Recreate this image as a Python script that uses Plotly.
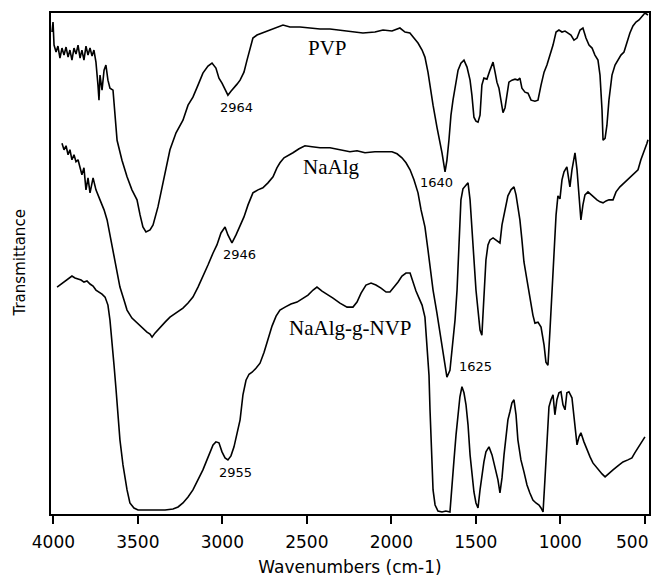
import plotly.graph_objects as go

# ---------------- data (wavenumber in cm-1, transmittance in arbitrary %) ----------------
pvp_wn = [4008, 4002, 3996, 3984, 3973, 3961, 3949, 3937, 3925, 3913, 3902, 3890, 3878, 3866, 3854,
          3842, 3831, 3819, 3807, 3795, 3783, 3771, 3760, 3748, 3736, 3730, 3724, 3712, 3700, 3689,
          3677, 3665, 3647, 3635, 3623, 3594, 3564, 3535, 3505, 3487, 3470, 3452, 3428, 3410, 3399,
          3381, 3345, 3310, 3274, 3233, 3203, 3174, 3144, 3115, 3085, 3061, 3038, 3020, 3002, 2984,
          2967, 2949, 2931, 2913, 2895, 2872, 2854, 2836, 2819, 2795, 2765, 2730, 2688, 2641, 2600,
          2540, 2481, 2422, 2363, 2274, 2168, 2097, 2049, 1996, 1949, 1919, 1890, 1866, 1842, 1818,
          1801, 1783, 1771, 1753, 1730, 1712, 1700, 1682, 1671, 1659, 1647, 1635, 1617, 1605, 1588,
          1570, 1552, 1534, 1523, 1511, 1499, 1487, 1475, 1464, 1452, 1434, 1416, 1398, 1386, 1375,
          1363, 1351, 1339, 1327, 1316, 1304, 1286, 1268, 1251, 1239, 1227, 1209, 1191, 1173, 1150,
          1132, 1114, 1096, 1079, 1061, 1043, 1025, 1008, 990, 972, 954, 937, 919, 901, 883,
          866, 848, 830, 812, 795, 777, 765, 753, 747, 735, 724, 712, 694, 676, 659,
          641, 623, 605, 588, 570, 552, 534, 517, 499, 481]
pvp_t = [96.2, 98.2, 93.6, 92.2, 93.4, 91.0, 93.0, 91.6, 93.2, 91.2, 92.6, 90.6, 93.0, 91.8, 93.6,
         91.0, 92.6, 90.6, 93.4, 91.6, 93.0, 91.4, 92.6, 90.2, 85.6, 82.6, 87.6, 84.6, 88.6, 89.6,
         86.6, 85.0, 84.6, 79.6, 74.6, 70.6, 67.3, 64.7, 62.7, 59.7, 57.3, 56.3, 56.7, 57.7, 59.1,
         61.3, 67.1, 72.7, 76.1, 78.6, 81.6, 83.2, 85.6, 88.0, 89.4, 90.0, 89.0, 87.0, 86.0, 84.6,
         83.6, 84.4, 85.0, 85.8, 86.6, 88.2, 90.6, 93.0, 95.0, 95.6, 96.0, 96.4, 97.0, 97.6, 97.2,
         97.2, 97.0, 96.8, 96.8, 96.4, 96.0, 96.2, 96.6, 96.4, 97.0, 96.2, 96.0, 95.0, 94.0, 92.6,
         91.2, 88.2, 85.2, 81.6, 77.2, 74.2, 72.1, 68.3, 70.6, 74.6, 79.6, 82.6, 86.6, 88.6, 90.0,
         90.6, 89.2, 86.6, 83.6, 79.2, 78.4, 78.2, 79.6, 85.6, 87.0, 86.8, 88.6, 90.2, 88.2, 86.2,
         85.0, 82.6, 80.1, 81.1, 83.6, 86.2, 86.6, 86.8, 86.6, 87.0, 85.0, 84.2, 84.0, 82.6, 82.4,
         82.6, 85.6, 88.2, 89.6, 91.6, 93.6, 96.2, 96.6, 96.2, 96.4, 96.0, 95.6, 94.6, 95.0, 96.6,
         97.0, 95.0, 93.6, 93.0, 91.6, 90.6, 87.6, 80.6, 74.6, 75.0, 77.6, 82.6, 87.6, 89.6, 90.6,
         91.6, 92.2, 94.2, 96.0, 97.4, 98.2, 98.6, 99.2, 100.0, 99.6]

naalg_wn = [3949, 3937, 3925, 3913, 3902, 3890, 3878, 3866, 3854, 3842, 3831, 3819, 3807, 3795, 3783,
            3765, 3748, 3724, 3700, 3682, 3665, 3647, 3623, 3606, 3582, 3564, 3535, 3505, 3475, 3446,
            3428, 3416, 3399, 3369, 3339, 3310, 3274, 3233, 3203, 3174, 3144, 3115, 3085, 3055, 3032,
            3008, 2984, 2967, 2943, 2919, 2895, 2872, 2848, 2819, 2789, 2760, 2730, 2700, 2677, 2659,
            2635, 2611, 2582, 2546, 2511, 2469, 2422, 2363, 2304, 2245, 2203, 2156, 2097, 2037, 1996,
            1966, 1937, 1913, 1889, 1866, 1842, 1824, 1801, 1783, 1753, 1730, 1712, 1694, 1671, 1653,
            1641, 1623, 1611, 1600, 1588, 1576, 1558, 1546, 1534, 1523, 1511, 1499, 1487, 1475, 1464,
            1452, 1440, 1428, 1416, 1398, 1381, 1369, 1357, 1345, 1327, 1310, 1292, 1274, 1262, 1251,
            1239, 1227, 1215, 1197, 1180, 1162, 1150, 1132, 1114, 1096, 1085, 1073, 1061, 1049, 1037,
            1025, 1014, 1002, 990, 978, 961, 949, 943, 931, 913, 901, 889, 878, 866, 854,
            836, 818, 801, 783, 765, 747, 729, 712, 688, 670, 647, 617, 588, 564, 540,
            523, 511, 499, 487, 481]
naalg_t = [74.0, 72.7, 73.5, 71.7, 72.7, 70.7, 71.7, 70.3, 70.7, 69.3, 67.7, 69.1, 64.7, 67.1, 64.1,
           67.1, 64.7, 62.7, 60.7, 58.7, 55.7, 52.7, 47.7, 45.3, 42.7, 40.7, 39.1, 38.1, 37.1, 36.3,
           35.9, 35.3, 36.1, 37.3, 38.3, 39.3, 40.1, 41.1, 42.1, 43.3, 45.3, 47.3, 49.7, 52.1, 53.7,
           56.1, 57.3, 55.7, 54.1, 55.7, 57.7, 59.3, 61.7, 64.1, 64.7, 65.1, 66.1, 67.3, 69.1, 70.1,
           71.1, 71.5, 72.1, 72.9, 73.5, 73.3, 73.1, 73.1, 72.7, 72.3, 72.5, 72.1, 72.3, 72.3, 72.3,
           71.9, 71.1, 70.1, 68.7, 66.7, 64.1, 60.7, 57.3, 52.7, 44.7, 40.1, 36.1, 31.7, 27.3, 28.7,
           32.7, 38.7, 44.7, 54.7, 62.7, 64.9, 65.5, 66.1, 62.7, 56.7, 50.7, 44.7, 40.7, 36.7, 35.7,
           42.7, 50.7, 53.7, 54.7, 55.1, 54.7, 54.3, 54.1, 57.7, 60.7, 63.5, 64.7, 65.3, 63.7, 61.3,
           58.7, 54.7, 50.3, 46.7, 43.1, 39.7, 38.1, 38.3, 37.3, 33.7, 30.3, 29.7, 36.7, 44.7, 52.7,
           59.7, 63.5, 62.9, 66.7, 68.3, 69.3, 67.1, 65.3, 68.7, 72.1, 68.7, 62.7, 58.7, 61.7, 63.7,
           64.3, 63.7, 63.1, 62.7, 62.3, 62.1, 62.5, 62.7, 62.7, 64.3, 65.3, 66.3, 67.3, 68.1, 68.7,
           70.7, 71.7, 72.7, 74.0, 74.7]

graft_wn = [3978, 3961, 3943, 3925, 3907, 3890, 3872, 3854, 3836, 3819, 3801, 3783, 3765, 3748, 3730,
            3712, 3694, 3677, 3665, 3653, 3641, 3629, 3618, 3606, 3588, 3576, 3564, 3547, 3523, 3499,
            3458, 3399, 3339, 3292, 3262, 3233, 3203, 3174, 3144, 3115, 3091, 3073, 3055, 3038, 3020,
            3002, 2984, 2967, 2949, 2931, 2913, 2895, 2878, 2860, 2842, 2824, 2801, 2777, 2753, 2730,
            2706, 2682, 2659, 2629, 2594, 2558, 2523, 2493, 2463, 2440, 2410, 2381, 2345, 2304, 2262,
            2227, 2203, 2179, 2150, 2120, 2091, 2061, 2031, 2008, 1984, 1960, 1937, 1913, 1889, 1872,
            1854, 1836, 1818, 1801, 1789, 1777, 1771, 1759, 1753, 1741, 1724, 1700, 1677, 1653, 1641,
            1629, 1617, 1605, 1594, 1582, 1570, 1558, 1546, 1534, 1523, 1511, 1499, 1487, 1475, 1464,
            1452, 1440, 1422, 1404, 1386, 1369, 1357, 1345, 1333, 1321, 1310, 1298, 1286, 1274, 1262,
            1251, 1233, 1215, 1197, 1180, 1162, 1144, 1126, 1114, 1102, 1091, 1079, 1067, 1055, 1043,
            1032, 1020, 1008, 996, 984, 972, 961, 949, 931, 913, 901, 889, 878, 860, 842,
            824, 807, 789, 771, 753, 735, 712, 688, 659, 629, 600, 576, 559, 540, 523, 499]
graft_t = [45.3, 45.7, 46.3, 46.7, 47.1, 47.5, 47.1, 46.9, 46.7, 46.3, 46.5, 45.9, 45.5, 44.7, 44.3,
           43.9, 43.3, 41.7, 38.7, 34.7, 29.7, 24.8, 19.8, 14.8, 9.8, 6.8, 4.8, 2.2, 1.2, 0.8,
           0.8, 0.8, 0.8, 1.0, 1.4, 2.2, 3.4, 4.8, 6.8, 8.8, 10.8, 12.4, 13.8, 14.4, 14.2,
           12.4, 11.2, 10.8, 11.6, 13.4, 15.8, 18.8, 23.8, 26.7, 27.9, 28.3, 29.1, 30.1, 32.3, 34.7,
           37.5, 39.5, 40.7, 41.3, 41.9, 42.3, 43.1, 43.7, 44.7, 45.3, 44.5, 43.9, 43.1, 42.1, 41.3,
           41.3, 42.3, 44.1, 45.7, 46.1, 45.7, 45.1, 44.3, 44.3, 45.3, 46.3, 47.5, 48.1, 48.1, 46.3,
           44.5, 43.1, 41.7, 39.3, 33.7, 27.7, 20.8, 8.8, 4.8, 1.8, 0.6, 0.4, 0.6, 0.4, 4.8,
           10.8, 15.8, 19.8, 23.4, 25.4, 24.2, 21.8, 17.8, 11.8, 7.8, 4.4, 2.2, 1.2, 4.8, 7.8,
           10.4, 12.4, 13.4, 11.8, 9.4, 6.8, 4.2, 7.2, 11.8, 15.8, 18.8, 20.4, 22.2, 22.8, 19.8,
           14.8, 10.8, 8.4, 5.8, 4.2, 2.8, 2.2, 1.8, 1.2, 0.4, 6.8, 14.8, 21.4, 22.8, 23.8,
           19.8, 22.8, 24.2, 24.4, 21.8, 20.8, 24.2, 24.4, 23.2, 17.8, 13.8, 15.4, 16.2, 14.4, 12.8,
           11.4, 10.2, 9.4, 8.8, 8.0, 7.4, 8.0, 8.8, 9.6, 10.4, 10.8, 11.2, 12.2, 13.2, 14.2, 15.4]

series_names = ["PVP", "NaAlg", "NaAlg-g-NVP"]
name_wn = [2375, 2357, 2244]
name_t = [93.0, 69.3, 37.1]

peak_labels = ["2964", "1640", "2946", "1625", "2955"]
peak_wn = [2919, 1730, 2901, 1499, 2925]
peak_t = [81.2, 66.1, 51.7, 29.5, 8.2]

x_ticks = [4000, 3500, 3000, 2500, 2000, 1500, 1000, 500]
x_tick_text = ["4000", "3500", "3000", "2500", "2000", "1500", "1000", ""]
last_tick_label = "500"   # drawn separately so that it stays inside the page

# ---------------- figure ----------------
fig = go.Figure()
for wn, t, nm in [(pvp_wn, pvp_t, series_names[0]),
                  (naalg_wn, naalg_t, series_names[1]),
                  (graft_wn, graft_t, series_names[2])]:
    fig.add_trace(go.Scatter(x=wn, y=t, mode="lines", name=nm,
                             line=dict(color="black", width=1.6), showlegend=False,
                             hoverinfo="skip"))

for nm, x, y in zip(series_names, name_wn, name_t):
    fig.add_annotation(x=x, y=y, text=nm, showarrow=False,
                       font=dict(family="Liberation Serif", size=21, color="black"))

for lb, x, y in zip(peak_labels, peak_wn, peak_t):
    fig.add_annotation(x=x, y=y, text=lb, showarrow=False,
                       font=dict(family="DejaVu Sans", size=13, color="black"))

fig.add_annotation(xref="x", yref="paper", x=x_ticks[-1], y=0, xshift=-13, yshift=-28,
                   text=last_tick_label, showarrow=False, xanchor="center", yanchor="middle",
                   font=dict(family="DejaVu Sans", size=17, color="black"))

fig.add_annotation(xref="paper", yref="paper", x=0, y=0.5, xshift=-32, text="Transmittance",
                   textangle=-90, showarrow=False, xanchor="center", yanchor="middle",
                   font=dict(family="DejaVu Sans", size=15, color="black"))

fig.update_xaxes(range=[4014, 475], tickvals=x_ticks, ticktext=x_tick_text,
                 ticks="outside", ticklen=8, tickwidth=1.5, tickcolor="black",
                 ticklabelstandoff=4, automargin=False,
                 showline=True, linecolor="black", linewidth=1.5, mirror=True,
                 showgrid=False, zeroline=False,
                 tickfont=dict(family="DejaVu Sans", size=17, color="black"),
                 title=dict(text="Wavenumbers (cm-1)", standoff=10,
                            font=dict(family="DejaVu Sans", size=17, color="black")))
fig.update_yaxes(range=[0, 100], showticklabels=False, ticks="", automargin=False,
                 showline=True, linecolor="black", linewidth=1.5, mirror=True,
                 showgrid=False, zeroline=False)

fig.update_layout(width=651, height=577, margin=dict(l=51, r=2, t=13, b=63),
                  paper_bgcolor="white", plot_bgcolor="white")

fig.write_html("out.html")
